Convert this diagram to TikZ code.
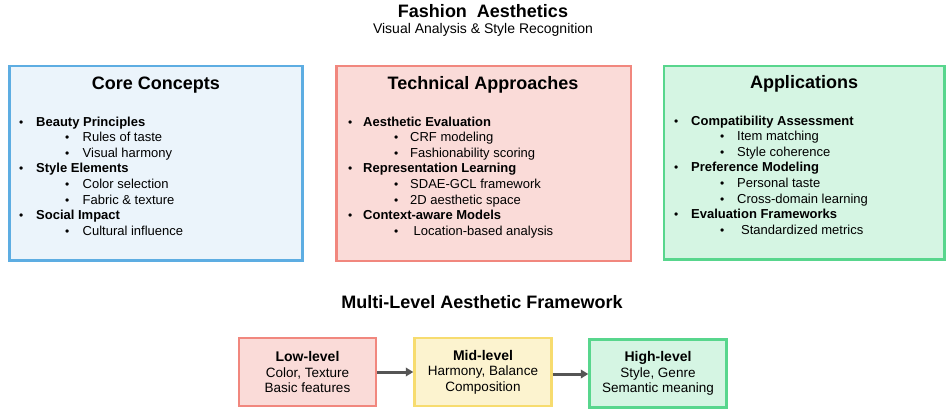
\documentclass[tikz,border=0pt]{standalone}
\usepackage{fontspec}
\setmainfont{Liberation Sans}
\usetikzlibrary{arrows.meta}
\definecolor{bluebd}{HTML}{5DADE2}
\definecolor{bluefl}{HTML}{EBF4FB}
\definecolor{redbd}{HTML}{F1877E}
\definecolor{redfl}{HTML}{FADBD8}
\definecolor{grnbd}{HTML}{58D68D}
\definecolor{grnfl}{HTML}{D5F5E3}
\definecolor{ylwbd}{HTML}{F7DC6F}
\definecolor{ylwfl}{HTML}{FCF3CF}
\definecolor{arrowgray}{HTML}{555555}
\tikzset{
  panel/.style={line width=2.4pt},
  heading/.style={font=\fontsize{18}{20}\selectfont\bfseries, anchor=base, inner sep=0pt},
  mainitem/.style={font=\fontsize{13}{15}\selectfont\bfseries, anchor=base west, inner sep=0pt},
  subitem/.style={font=\fontsize{13}{15}\selectfont, anchor=base west, inner sep=0pt},
  bul/.style={font=\fontsize{12}{14}\selectfont, anchor=base west, inner sep=0pt},
  lvlbox/.style={line width=2.4pt, minimum width=137pt, minimum height=68pt, align=center, inner sep=0pt, font=\fontsize{13.5}{15.5}\selectfont},
  flow/.style={-{Triangle[length=7.5pt,width=8.5pt]}, line width=3pt, draw=arrowgray, fill=arrowgray}
}
\begin{document}
\begin{tikzpicture}[x=1pt,y=-1pt]
\useasboundingbox (0,0) rectangle (947,409);
% titles
\node[heading] (title) at (483,17.5) {Fashion\ \ Aesthetics};
\node[font=\fontsize{14}{16}\selectfont, anchor=base, inner sep=0pt] (subtitle) at (483,34) {Visual Analysis \& Style Recognition};

% panels
\draw[panel, draw=bluebd, fill=bluefl] (9.5,66) rectangle (302.5,260.5);
\draw[panel, draw=redbd, fill=redfl] (336.5,66) rectangle (631,261);
\draw[panel, draw=grnbd, fill=grnfl] (664,66) rectangle (944.5,259.5);

% Core Concepts
\node[heading] (h1) at (156,90) {Core Concepts};
\node[bul] (b1a) at (19,126) {•};
\node[mainitem] (m1a) at (36,126) {Beauty Principles};
\node[bul] (b1a1) at (65,141.6) {•};
\node[subitem] (s1a1) at (82.5,141.6) {Rules of taste};
\node[bul] (b1a2) at (65,157.2) {•};
\node[subitem] (s1a2) at (82.5,157.2) {Visual harmony};
\node[bul] (b1b) at (19,172.8) {•};
\node[mainitem] (m1b) at (36,172.8) {Style Elements};
\node[bul] (b1b1) at (65,188.4) {•};
\node[subitem] (s1b1) at (82.5,188.4) {Color selection};
\node[bul] (b1b2) at (65,204) {•};
\node[subitem] (s1b2) at (82.5,204) {Fabric \& texture};
\node[bul] (b1c) at (19,219.6) {•};
\node[mainitem] (m1c) at (36,219.6) {Social Impact};
\node[bul] (b1c1) at (65,235.2) {•};
\node[subitem] (s1c1) at (82.5,235.2) {Cultural influence};

% Technical Approaches
\node[heading] (h2) at (483,90) {Technical Approaches};
\node[bul] (b2a) at (348,126) {•};
\node[mainitem] (m2a) at (363,126) {Aesthetic Evaluation};
\node[bul] (b2a1) at (394,141.6) {•};
\node[subitem] (s2a1) at (410,141.6) {CRF modeling};
\node[bul] (b2a2) at (394,157.2) {•};
\node[subitem] (s2a2) at (410,157.2) {Fashionability scoring};
\node[bul] (b2b) at (348,172.8) {•};
\node[mainitem] (m2b) at (363,172.8) {Representation Learning};
\node[bul] (b2b1) at (394,188.4) {•};
\node[subitem] (s2b1) at (410,188.4) {SDAE-GCL framework};
\node[bul] (b2b2) at (394,204) {•};
\node[subitem] (s2b2) at (410,204) {2D aesthetic space};
\node[bul] (b2c) at (348,219.6) {•};
\node[mainitem] (m2c) at (363,219.6) {Context-aware Models};
\node[bul] (b2c1) at (394,235.2) {•};
\node[subitem] (s2c1) at (413.5,235.2) {Location-based analysis};

% Applications
\node[heading] (h3) at (804,89) {Applications};
\node[bul] (b3a) at (674,125) {•};
\node[mainitem] (m3a) at (691,125) {Compatibility Assessment};
\node[bul] (b3a1) at (720,140.6) {•};
\node[subitem] (s3a1) at (737,140.6) {Item matching};
\node[bul] (b3a2) at (720,156.2) {•};
\node[subitem] (s3a2) at (737,156.2) {Style coherence};
\node[bul] (b3b) at (674,171.8) {•};
\node[mainitem] (m3b) at (691,171.8) {Preference Modeling};
\node[bul] (b3b1) at (720,187.4) {•};
\node[subitem] (s3b1) at (737,187.4) {Personal taste};
\node[bul] (b3b2) at (720,203) {•};
\node[subitem] (s3b2) at (737,203) {Cross-domain learning};
\node[bul] (b3c) at (674,218.6) {•};
\node[mainitem] (m3c) at (691,218.6) {Evaluation Frameworks};
\node[bul] (b3c1) at (720,234.2) {•};
\node[subitem] (s3c1) at (741,234.2) {Standardized metrics};

% Multi-level framework
\node[heading] (h4) at (482,308) {Multi-Level Aesthetic Framework};
\node[lvlbox, draw=redbd, fill=redfl] (low) at (307.5,372) {{\bfseries\fontsize{14}{15.5}\selectfont Low-level}\\Color, Texture\\Basic features};
\node[lvlbox, draw=ylwbd, fill=ylwfl] (mid) at (483,372) {{\bfseries\fontsize{14}{15.5}\selectfont Mid-level}\\Harmony, Balance\\Composition};
\node[lvlbox, draw=grnbd, fill=grnfl] (high) at (658,373.5) {{\bfseries\fontsize{14}{15.5}\selectfont High-level}\\Style, Genre\\Semantic meaning};
\draw[flow] (low.east) -- (mid.west);
\draw[flow] ([yshift=-2pt]mid.east) -- ([yshift=-2pt]mid.east -| high.west);
\end{tikzpicture}
\end{document}
